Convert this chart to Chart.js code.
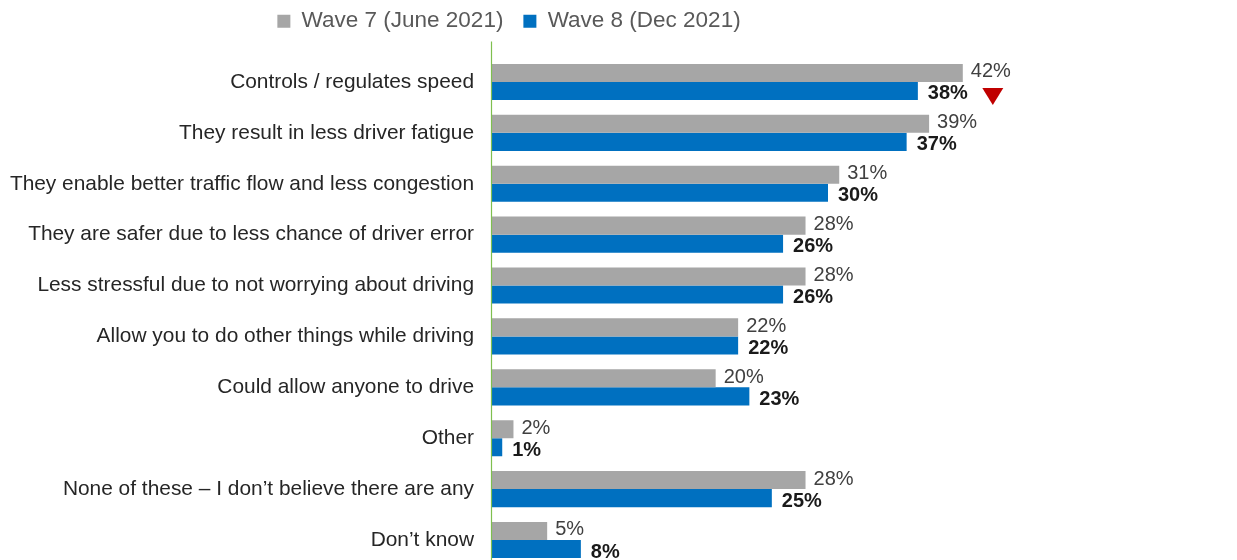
<!DOCTYPE html>
<html>
<head>
<meta charset="utf-8">
<script src="https://cdn.jsdelivr.net/npm/chart.js@4.4.1/dist/chart.umd.min.js"></script>
<style>
body { margin: 0; background: #fff; overflow: hidden; }
#wrap { position: relative; width: 1237px; height: 587px; }
</style>
</head>
<body>
<div id="wrap"><canvas id="BarChart"></canvas></div>
<script>
// data
const categories = [
    "Controls / regulates speed",
    "They result in less driver fatigue",
    "They enable better traffic flow and less congestion",
    "They are safer due to less chance of driver error",
    "Less stressful due to not worrying about driving",
    "Allow you to do other things while driving",
    "Could allow anyone to drive",
    "Other",
    "None of these \u2013 I don\u2019t believe there are any",
    "Don\u2019t know"
];
const seriesNames = ["Wave 7 (June 2021)", "Wave 8 (Dec 2021)"];
const wave7 = [42, 39, 31, 28, 28, 22, 20, 2, 28, 5];
const wave8 = [38, 37, 30, 26, 26, 22, 23, 1, 25, 8];
// wave 8 significantly lower than wave 7
const sigDown = [true, false, false, false, false, false, false, false, false, false];

const FONT = "'Liberation Sans', Arial, sans-serif";
const grey = "#a6a6a6";
const blue = "#0070c0";

// value labels + significance triangle
const valueLabels = {
    id: "valueLabels",
    afterDatasetsDraw(chart) {
        const ctx = chart.ctx;
        ctx.save();
        ctx.textAlign = "left";
        ctx.textBaseline = "middle";
        chart.data.datasets.forEach((ds, i) => {
            const meta = chart.getDatasetMeta(i);
            meta.data.forEach((bar, j) => {
                if (i === 0) {
                    ctx.font = "20px " + FONT;
                    ctx.fillStyle = "#404040";
                    ctx.fillText(ds.data[j] + "%", bar.x + 8, bar.y - 1);
                } else {
                    ctx.font = "bold 20px " + FONT;
                    ctx.fillStyle = "#1a1a1a";
                    ctx.fillText(ds.data[j] + "%", bar.x + 10, bar.y + 3);
                }
            });
        });
        // red triangle
        const m0 = chart.getDatasetMeta(0), m1 = chart.getDatasetMeta(1);
        sigDown.forEach((s, j) => {
            if (!s) return;
            const cx = m0.data[j].x + 30, cy = m1.data[j].y + 5;
            ctx.fillStyle = "#c00000";
            ctx.beginPath();
            ctx.moveTo(cx - 10.5, cy - 8);
            ctx.lineTo(cx + 10.5, cy - 8);
            ctx.lineTo(cx, cy + 9);
            ctx.closePath();
            ctx.fill();
        });
        ctx.restore();
    }
};

// green axis line, starts a bit above the plot
const axisLine = {
    id: "axisLine",
    afterDatasetsDraw(chart) {
        const a = chart.chartArea, ctx = chart.ctx;
        ctx.save();
        ctx.strokeStyle = "#7fbf4f";
        ctx.lineWidth = 1.2;
        ctx.beginPath();
        ctx.moveTo(a.left + 0.5, a.top - 15);
        ctx.lineTo(a.left + 0.5, a.bottom);
        ctx.stroke();
        ctx.restore();
    }
};

// move the legend to where it sits in the original
const legendPlace = {
    id: "legendPlace",
    afterLayout(chart) {
        const l = chart.legend;
        const dx = 509 - (l.left + l.right) / 2;
        l.left += dx; l.right += dx;
        const dy = l.top + 10;
        l.top -= dy; l.bottom -= dy;
    }
};

var config = {
    type: "bar",
    data: {
        labels: categories,
        datasets: [{
            label: seriesNames[0],
            data: wave7,
            backgroundColor: grey,
            borderWidth: 0
        }, {
            label: seriesNames[1],
            data: wave8,
            backgroundColor: blue,
            borderWidth: 0
        }]
    },
    options: {
        indexAxis: "y",
        responsive: true,
        maintainAspectRatio: false,
        animation: false,
        layout: { padding: { top: 4, right: 72, bottom: 3, left: 0 } },
        datasets: {
            bar: { barPercentage: 1.0, categoryPercentage: 0.71 }
        },
        scales: {
            x: {
                display: false,
                min: 0,
                max: 60
            },
            y: {
                grid: { display: false },
                border: { display: false },
                ticks: {
                    color: "#262626",
                    padding: 9,
                    font: { family: FONT, size: 20.9 }
                },
                afterFit(scale) { scale.width = 491; }
            }
        },
        plugins: {
            legend: {
                position: "top",
                labels: {
                    color: "#595959",
                    boxWidth: 13,
                    boxHeight: 13,
                    padding: 20,
                    font: { family: FONT, size: 22.5 }
                }
            },
            tooltip: { enabled: false }
        }
    },
    plugins: [valueLabels, axisLine, legendPlace]
};
window.myBar = new Chart(document.getElementById("BarChart"), config);
</script>
</body>
</html>
